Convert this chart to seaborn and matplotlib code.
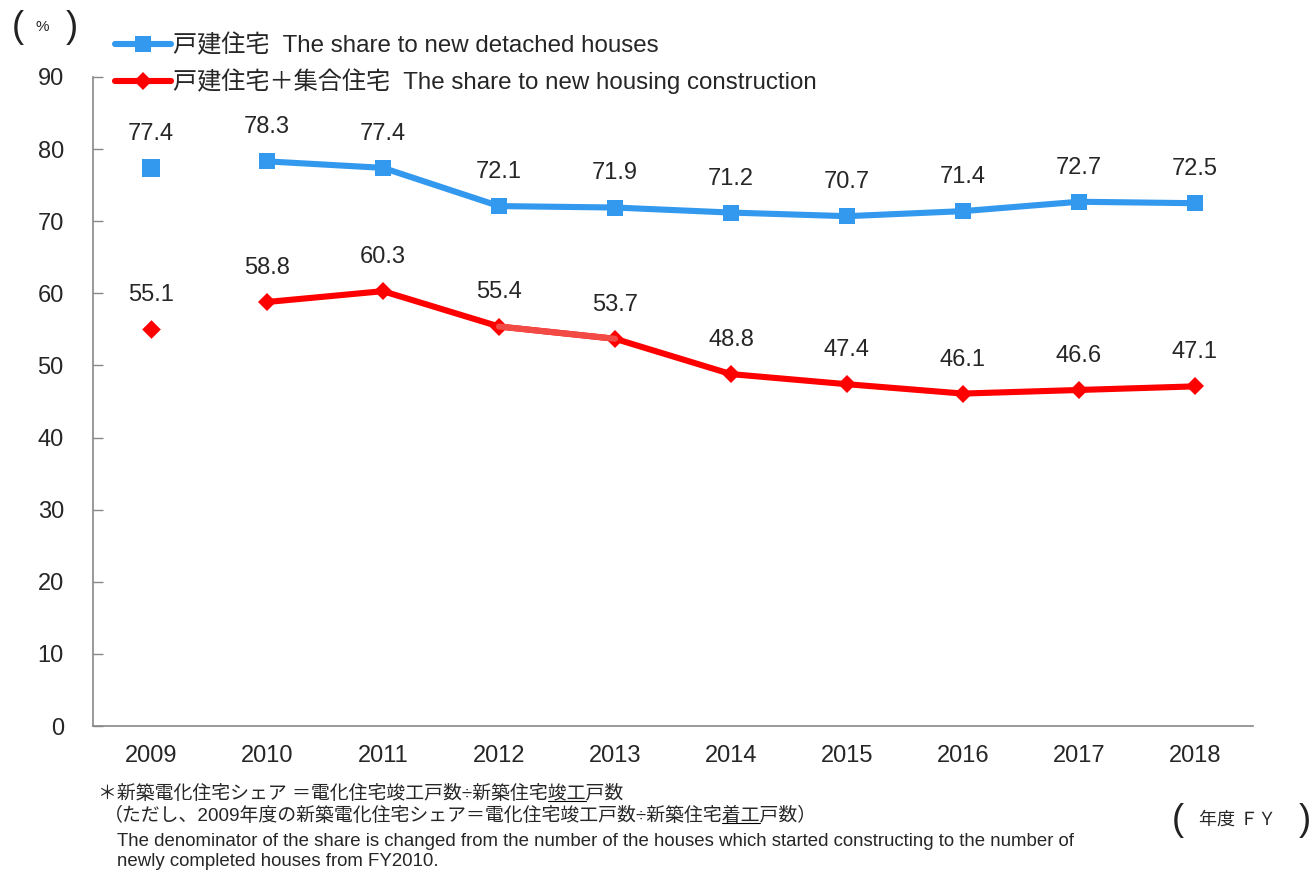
import pandas as pd
import matplotlib.pyplot as plt
import seaborn as sns

# data
years = [2009, 2010, 2011, 2012, 2013, 2014, 2015, 2016, 2017, 2018]
detached = [77.4, 78.3, 77.4, 72.1, 71.9, 71.2, 70.7, 71.4, 72.7, 72.5]
total = [55.1, 58.8, 60.3, 55.4, 53.7, 48.8, 47.4, 46.1, 46.6, 47.1]

blue_label = "戸建住宅  The share to new detached houses"
red_label = "戸建住宅＋集合住宅  The share to new housing construction"

note1 = "＊新築電化住宅シェア ＝電化住宅竣工戸数÷新築住宅竣工戸数"
note2 = "（ただし、2009年度の新築電化住宅シェア＝電化住宅竣工戸数÷新築住宅着工戸数）"
note3 = ("The denominator of the share is changed from the number of the houses "
         "which started constructing to the number of")
note4 = "newly completed houses from FY2010."

blue = "#3399EE"
red = "#FF0000"
axis_grey = "#888888"

df = pd.DataFrame({"Year": years, "Detached": detached, "Total": total})
first = df[df["Year"] == 2009]
rest = df[df["Year"] >= 2010]

sns.set_style("white")
fonts = ["Liberation Sans", "Noto Sans CJK JP", "DejaVu Sans"]
plt.rcParams["font.family"] = fonts

fig = plt.figure(figsize=(13.12, 8.72), dpi=100)
ax = fig.add_axes([0.0709, 0.1674, 0.8841, 0.7443])

# lines from 2010 on, 2009 shown as a separate point
sns.lineplot(data=rest, x="Year", y="Detached", color=blue, lw=4.4, marker="s",
             markersize=12, markeredgewidth=0, ax=ax, label=blue_label)
sns.scatterplot(data=first, x="Year", y="Detached", color=blue, marker="s", s=150,
                linewidth=0, ax=ax)
sns.lineplot(data=rest, x="Year", y="Total", color=red, lw=4.4, marker="D",
             markersize=9.5, markeredgewidth=0, ax=ax, label=red_label)
sns.scatterplot(data=first, x="Year", y="Total", color=red, marker="D", s=90,
                linewidth=0, ax=ax)
# lighter segment between 2012 and 2013
seg = df[(df["Year"] >= 2012) & (df["Year"] <= 2013)]
sns.lineplot(data=seg, x="Year", y="Total", color="#F24B45", lw=4.4, ax=ax,
             legend=False)

for x, a, b in zip(years, detached, total):
    ax.annotate(f"{a:.1f}", (x, a), xytext=(0, 24.5), textcoords="offset points",
                ha="center", va="center", fontsize=17)
    ax.annotate(f"{b:.1f}", (x, b), xytext=(0, 24.5), textcoords="offset points",
                ha="center", va="center", fontsize=17)

ax.set_xlim(2008.5, 2018.5)
ax.set_ylim(0, 90)
ax.set_yticks(range(0, 91, 10))
ax.set_xticks(years)
ax.set_xticks([y + 0.5 for y in [2008] + years], minor=True)
ax.tick_params(axis="x", which="major", length=0, pad=14, labelsize=17)
ax.tick_params(axis="x", which="minor", length=6, width=1, direction="in",
               color=axis_grey)
ax.tick_params(axis="y", length=7, width=1, labelsize=17, pad=21, direction="in",
               color=axis_grey, left=True)
ax.set_xlabel("")
ax.set_ylabel("")
for s in ["top", "right"]:
    ax.spines[s].set_visible(False)
for s in ["left", "bottom"]:
    ax.spines[s].set_linewidth(1.2)
    ax.spines[s].set_color(axis_grey)

ax.get_legend().remove()
handles, labels = ax.get_legend_handles_labels()
fig.legend(handles, labels, loc="upper left", bbox_to_anchor=(0.0877, 0.961),
           frameon=False, fontsize=17.4, handlelength=2.3, handletextpad=0.1,
           borderpad=0, borderaxespad=0, labelspacing=0.45)

# unit boxes
fig.text(0.009, 0.969, "(", fontsize=26, va="center", color="#222222")
fig.text(0.027, 0.969, "%", fontsize=11, va="center")
fig.text(0.050, 0.969, ")", fontsize=26, va="center", color="#222222")
fig.text(0.893, 0.059, "(", fontsize=26, va="center", color="#222222")
fig.text(0.914, 0.059, "年度 ＦＹ", fontsize=13, va="center")
fig.text(0.990, 0.059, ")", fontsize=26, va="center", color="#222222")


def underline(t, before, word):
    # draw a line under `word`, which comes after the text `before` in t
    r = fig.canvas.get_renderer()
    full = t.get_window_extent(r)
    probe = fig.text(0, 0, before, fontsize=t.get_fontsize())
    w0 = probe.get_window_extent(r).width
    probe.set_text(before + word)
    w1 = probe.get_window_extent(r).width
    probe.remove()
    fw, fh = fig.bbox.width, fig.bbox.height
    y = (full.y0 + 2) / fh
    fig.add_artist(plt.Line2D([(full.x0 + w0) / fw, (full.x0 + w1) / fw], [y, y],
                              color="black", lw=0.8))


# footnotes
t1 = fig.text(0.075, 0.089, note1, fontsize=13.6, va="center")
t2 = fig.text(0.079, 0.064, note2, fontsize=13.6, va="center")
fig.text(0.089, 0.035, note3, fontsize=13.45, va="center")
fig.text(0.089, 0.012, note4, fontsize=13.45, va="center")
fig.canvas.draw()
underline(t1, "＊新築電化住宅シェア ＝電化住宅竣工戸数÷新築住宅", "竣工")
underline(t2, "（ただし、2009年度の新築電化住宅シェア＝電化住宅竣工戸数÷新築住宅", "着工")

fig.savefig("out.png", dpi=100)
